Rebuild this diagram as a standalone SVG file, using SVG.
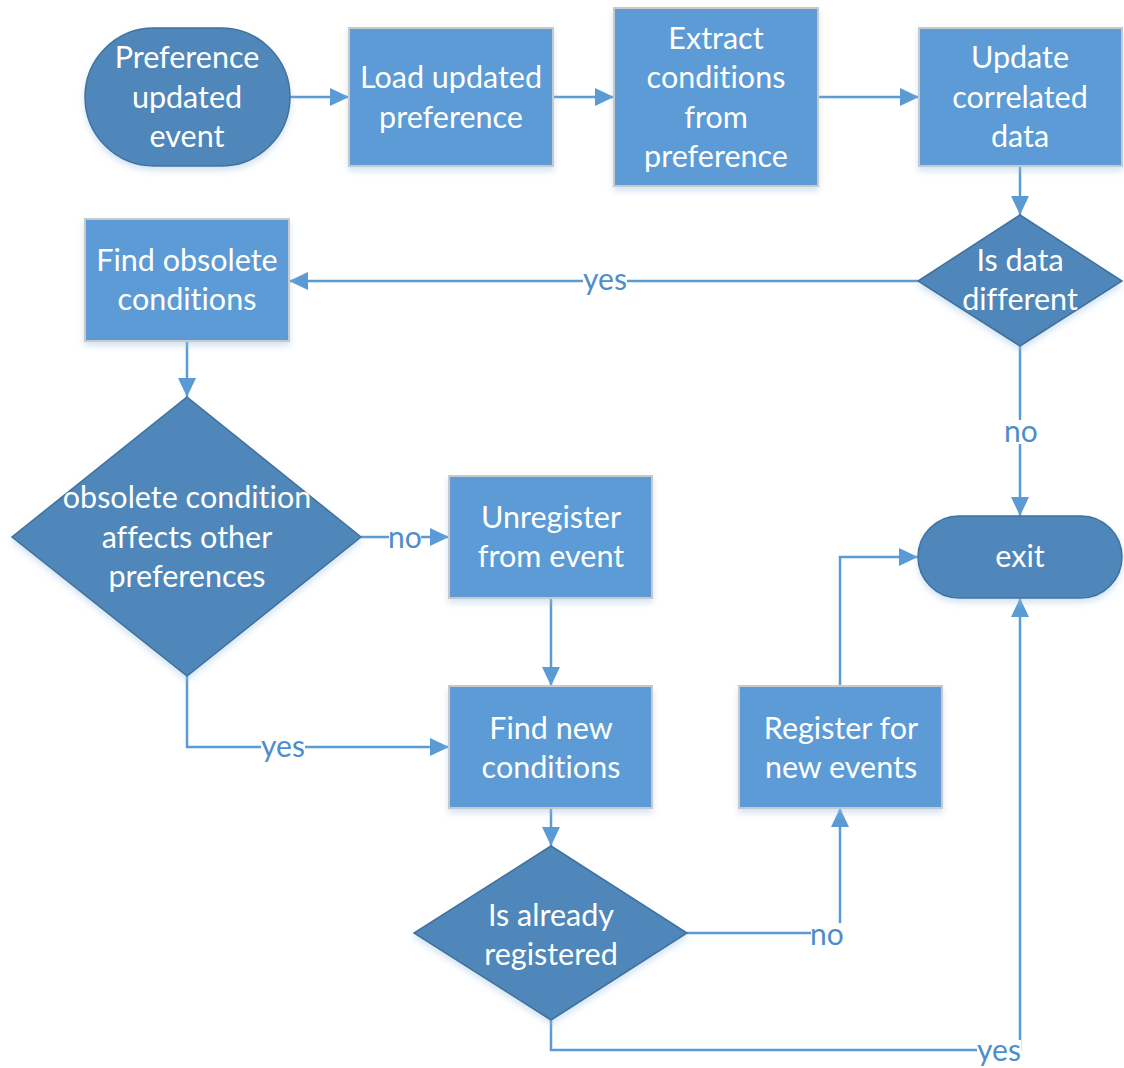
<svg xmlns="http://www.w3.org/2000/svg" width="1124" height="1068" viewBox="0 0 1124 1068">
  <style>
    .proc { fill: #5B9BD5; stroke: #C9C9C9; stroke-width: 2; filter: url(#shadow); }
    .term { fill: #4F87BA; stroke: #41719C; stroke-width: 1.5; filter: url(#shadow); }
    .dec  { fill: #4F87BA; stroke: #41719C; stroke-width: 1.5; filter: url(#shadow); }
    .t    { font-family: Lato, "Open Sans", "Liberation Sans", sans-serif; font-size: 30.5px; fill: #FFFFFF; text-anchor: middle; font-variant-ligatures: none; font-feature-settings: "liga" 0, "clig" 0; }
    .edge { fill: none; stroke: #5B9BD5; stroke-width: 2.5; }
    .lbl  { font-family: Lato, "Open Sans", "Liberation Sans", sans-serif; font-size: 30px; fill: #4E8DCC; text-anchor: middle; }
    .lblbg { fill: #FFFFFF; }
  </style>
  <defs>
    <filter id="shadow" x="-10%" y="-10%" width="120%" height="130%">
      <feGaussianBlur in="SourceAlpha" stdDeviation="3"/>
      <feOffset dx="0" dy="4" result="b"/>
      <feFlood flood-color="#9DC3E6" flood-opacity="0.45"/>
      <feComposite in2="b" operator="in"/>
      <feMerge><feMergeNode/><feMergeNode in="SourceGraphic"/></feMerge>
    </filter>
    <marker id="arrow" markerUnits="userSpaceOnUse" markerWidth="20" markerHeight="18" refX="19" refY="9" orient="auto">
      <path d="M0,0 L19,9 L0,18 Z" fill="#5B9BD5"/>
    </marker>
  </defs>

  <!-- connectors -->
  <g id="connectors">
    <path class="edge" d="M290,97 H349" marker-end="url(#arrow)"/>
    <path class="edge" d="M553,97 H614" marker-end="url(#arrow)"/>
    <path class="edge" d="M818,97 H919" marker-end="url(#arrow)"/>
    <path class="edge" d="M1020,166 V215" marker-end="url(#arrow)"/>
    <path class="edge" d="M918,281 H289" marker-end="url(#arrow)"/>
    <path class="edge" d="M1020,346 V516" marker-end="url(#arrow)"/>
    <path class="edge" d="M187,341 V397" marker-end="url(#arrow)"/>
    <path class="edge" d="M361,537 H449" marker-end="url(#arrow)"/>
    <path class="edge" d="M551,598 V686" marker-end="url(#arrow)"/>
    <path class="edge" d="M187,676 V747 H449" marker-end="url(#arrow)"/>
    <path class="edge" d="M551,808 V846" marker-end="url(#arrow)"/>
    <path class="edge" d="M687,933 H840 V808" marker-end="url(#arrow)"/>
    <path class="edge" d="M840,686 V557 H918" marker-end="url(#arrow)"/>
    <path class="edge" d="M551,1020 V1050 H1020 V598" marker-end="url(#arrow)"/>

    <!-- edge labels -->
    <rect class="lblbg" x="583" y="270" width="44" height="24"/>
    <text class="lbl" x="605" y="290">yes</text>
    <rect class="lblbg" x="1005" y="420" width="32" height="24"/>
    <text class="lbl" x="1021" y="442">no</text>
    <rect class="lblbg" x="389" y="526" width="32" height="24"/>
    <text class="lbl" x="405" y="548">no</text>
    <rect class="lblbg" x="261" y="736" width="44" height="24"/>
    <text class="lbl" x="283" y="757">yes</text>
    <rect class="lblbg" x="811" y="923" width="32" height="24"/>
    <text class="lbl" x="827" y="945">no</text>
    <rect class="lblbg" x="977" y="1040" width="44" height="24"/>
    <text class="lbl" x="999" y="1061">yes</text>
  </g>

  <!-- nodes -->
  <g id="start">
    <rect class="term" x="85" y="28" width="205" height="138" rx="69" ry="69"/>
    <text class="t" x="187" y="68">Preference</text>
    <text class="t" x="187" y="107.5">updated</text>
    <text class="t" x="187" y="147">event</text>
  </g>
  <g id="load">
    <rect class="proc" x="349" y="28" width="204" height="138"/>
    <text class="t" x="451" y="88">Load updated</text>
    <text class="t" x="451" y="127.5">preference</text>
  </g>
  <g id="extract">
    <rect class="proc" x="614" y="8" width="204" height="178"/>
    <text class="t" x="716" y="49">Extract</text>
    <text class="t" x="716" y="88">conditions</text>
    <text class="t" x="716" y="127.5">from</text>
    <text class="t" x="716" y="167">preference</text>
  </g>
  <g id="update">
    <rect class="proc" x="919" y="28" width="203" height="138"/>
    <text class="t" x="1020" y="68">Update</text>
    <text class="t" x="1020" y="107.5">correlated</text>
    <text class="t" x="1020" y="147">data</text>
  </g>
  <g id="is-data-different">
    <polygon class="dec" points="1020,215 1122,281 1020,346 918,281"/>
    <text class="t" x="1020" y="271">Is data</text>
    <text class="t" x="1020" y="310">different</text>
  </g>
  <g id="find-obsolete">
    <rect class="proc" x="85" y="219" width="204" height="122"/>
    <text class="t" x="187" y="271">Find obsolete</text>
    <text class="t" x="187" y="310">conditions</text>
  </g>
  <g id="obsolete-affects">
    <polygon class="dec" points="187,397 361,537 187,676 12,537"/>
    <text class="t" x="187" y="508">obsolete condition</text>
    <text class="t" x="187" y="548">affects other</text>
    <text class="t" x="187" y="587">preferences</text>
  </g>
  <g id="unregister">
    <rect class="proc" x="449" y="476" width="203" height="122"/>
    <text class="t" x="551" y="528">Unregister</text>
    <text class="t" x="551" y="567">from event</text>
  </g>
  <g id="find-new">
    <rect class="proc" x="449" y="686" width="203" height="122"/>
    <text class="t" x="551" y="739">Find new</text>
    <text class="t" x="551" y="778">conditions</text>
  </g>
  <g id="register">
    <rect class="proc" x="739" y="686" width="203" height="122"/>
    <text class="t" x="841" y="739">Register for</text>
    <text class="t" x="841" y="778">new events</text>
  </g>
  <g id="already-registered">
    <polygon class="dec" points="551,846 687,933 551,1020 414,933"/>
    <text class="t" x="551" y="926">Is already</text>
    <text class="t" x="551" y="965">registered</text>
  </g>
  <g id="exit">
    <rect class="term" x="918" y="516" width="204" height="82" rx="41" ry="41"/>
    <text class="t" x="1020" y="567">exit</text>
  </g>
</svg>
